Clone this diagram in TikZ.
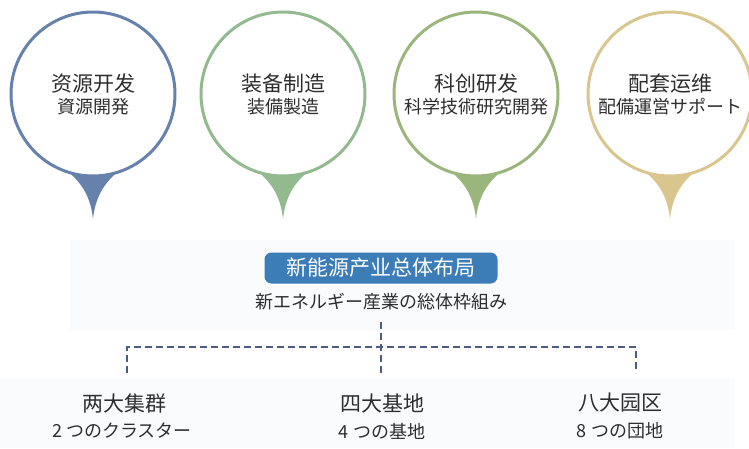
\documentclass[tikz,border=0pt]{standalone}
\usepackage{fontspec}
\newfontfamily\zhfont{Noto Sans CJK SC}
\newfontfamily\jafont{Noto Sans CJK JP}
\definecolor{pinblue}{HTML}{6682AC}
\definecolor{pingreen}{HTML}{93B98E}
\definecolor{pinolive}{HTML}{9BB67C}
\definecolor{pintan}{HTML}{D9C58E}
\definecolor{boxblue}{HTML}{3C7DB8}
\definecolor{dashblue}{HTML}{4C5C82}
\definecolor{bgtint}{HTML}{F9FBFC}
\definecolor{inkgray}{HTML}{2E2E2E}
\begin{document}
\begin{tikzpicture}[x=1pt, y=-1pt,
    pin/.style={circle, draw=#1, line width=3pt, fill=white, minimum size=164pt, inner sep=0pt, align=center, text=inkgray},
    titlebox/.style={fill=boxblue, rounded corners=7pt, minimum width=233pt, minimum height=31pt, text=white, font=\zhfont\fontsize{21}{24}\selectfont},
    cnlabel/.style={text=inkgray, font=\zhfont\fontsize{21}{24}\selectfont},
    jplabel/.style={text=inkgray, font=\jafont\fontsize{18}{21}\selectfont},
    dashline/.style={draw=dashblue, line width=1.6pt, dash pattern=on 7pt off 4pt}]
    \useasboundingbox (0,0) rectangle (749,448);
    \fill[bgtint] (70,240) rectangle (735,330);
    \fill[bgtint] (0,378) rectangle (735,448);
    \foreach \cx/\col/\cntext/\jptext [count=\i] in {93/pinblue/资源开发/資源開発, 283/pingreen/装备制造/装備製造, 476/pinolive/科创研发/科学技術研究開発, 670/pintan/配套运维/配備運営サポート}{
        \fill[\col] (\cx-27,170) .. controls (\cx-9,184) and (\cx-2,200) .. (\cx,219) .. controls (\cx+2,200) and (\cx+9,184) .. (\cx+27,170) -- (\cx,140) -- cycle;
        \node[pin=\col] (pin\i) at (\cx,94) {{\zhfont\fontsize{21}{24}\selectfont \cntext}\\[4pt]{\jafont\fontsize{18}{21}\selectfont \jptext}};
    }
    \node[titlebox] (core) at (381,268) {新能源产业总体布局};
    \node[jplabel] (coresub) at (381,302) {新エネルギー産業の総体枠組み};
    \coordinate (top) at (381,322);
    \coordinate (lc) at (127,347);
    \coordinate (rc) at (636,347);
    \coordinate (lend) at (127,373);
    \coordinate (mend) at (381,373);
    \coordinate (rend) at (636,373);
    \draw[dashline] (top) -- (mend);
    \draw[dashline] (lend) -- (lc) -- (rc) -- (rend);
    \node[cnlabel] (g1) at (124,403) {两大集群};
    \node[jplabel] (g1s) at (122,431) {2 つのクラスター};
    \node[cnlabel] (g2) at (382,403) {四大基地};
    \node[jplabel] (g2s) at (382,431) {4 つの基地};
    \node[cnlabel] (g3) at (620,403) {八大园区};
    \node[jplabel] (g3s) at (620,431) {8 つの団地};
\end{tikzpicture}
\end{document}
